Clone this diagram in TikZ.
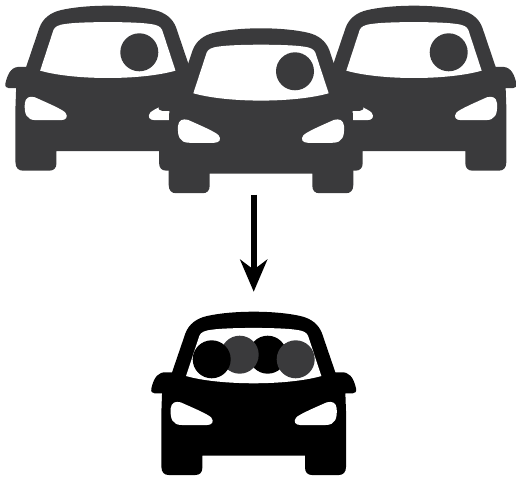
\documentclass[tikz,border=0pt]{standalone}
\usetikzlibrary{arrows.meta}
\definecolor{cardark}{HTML}{3A3A3C}
\tikzset{
  pics/car/.style={code={
    \begin{scope}[x=0.3333pt,y=-0.3333pt]
    \fill[#1] (0,0) .. controls (60,0) and (110,6) .. (140,13)
      .. controls (172,20) and (195,38) .. (205,65)
      -- (245,182) -- (262,182)
      .. controls (285,180) and (299,195) .. (307,230)
      .. controls (309,240) and (305,245) .. (297,245)
      -- (275,245) -- (277,300) -- (277,465)
      .. controls (277,482) and (268,490) .. (255,490)
      -- (175,490) .. controls (162,490) and (154,482) .. (154,468)
      -- (154,432) -- (-154,432) -- (-154,468)
      .. controls (-154,482) and (-162,490) .. (-175,490)
      -- (-255,490) .. controls (-268,490) and (-277,482) .. (-277,465)
      -- (-277,300) -- (-275,245) -- (-297,245)
      .. controls (-305,245) and (-309,240) .. (-307,230)
      .. controls (-299,195) and (-285,180) .. (-262,182)
      -- (-245,182) -- (-205,65)
      .. controls (-195,38) and (-172,20) .. (-140,13)
      .. controls (-110,6) and (-60,0) .. (0,0) -- cycle;
    \fill[white] (-203,193) -- (-163,72)
      .. controls (-158,62) and (-150,57) .. (-125,54)
      .. controls (-80,47) and (80,47) .. (125,54)
      .. controls (150,57) and (158,62) .. (163,72)
      -- (203,193) .. controls (100,222) and (-100,222) .. (-203,193) -- cycle;
    \foreach \s in {1,-1}{
      \begin{scope}[xscale=\s]
      \fill[white] (219,272) .. controls (235,268) and (247,272) .. (249,290)
        .. controls (251,320) and (245,340) .. (215,340)
        -- (140,340) .. controls (125,340) and (118,330) .. (127,318)
        .. controls (135,308) and (190,285) .. (219,272) -- cycle;
      \end{scope}
    }
    \end{scope}
  }},
  headdot/.style={circle,inner sep=0pt,minimum size=38pt,fill=#1},
  topcar/.style={yscale=1.01}
}
\begin{document}
\begin{tikzpicture}[x=1pt,y=-1pt]
\useasboundingbox (0,0) rectangle (516,478);
% top row: left, right, then middle car in front
\pic[topcar] at (107.8,5.7) {car=cardark};
\node[headdot=cardark] (h1) at (139.3,52.3) {};
\pic[topcar] at (414,5.7) {car=cardark};
\node[headdot=cardark] (h3) at (448.7,52.3) {};
\pic[topcar] at (261,28.3) {car=cardark};
\node[headdot=cardark] (h2) at (295,71.3) {};
% arrow
\coordinate (as) at (253.7,194.7);
\coordinate (ae) at (253.7,291.7);
\draw[line width=6.3pt,-{Stealth[length=32pt,width=27pt,inset=10pt]},black] (as) -- (ae);
% bottom car
\pic at (253.7,311.7) {car=black};
\node[headdot=black] (p2) at (267.7,354.7) {};
\node[headdot=cardark] (p1) at (239.7,354.7) {};
\node[headdot=black] (p0) at (211.7,359.3) {};
\node[headdot=cardark] (p3) at (295.7,359.3) {};
\end{tikzpicture}
\end{document}
